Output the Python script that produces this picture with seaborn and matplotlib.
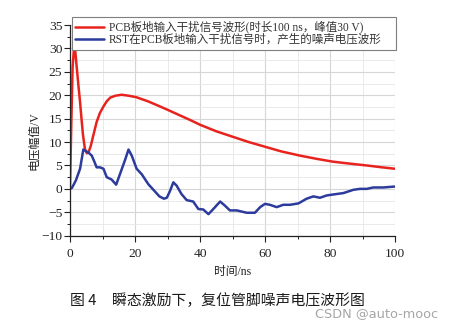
import numpy as np
import pandas as pd
import matplotlib
matplotlib.use("Agg")
import matplotlib.pyplot as plt
import seaborn as sns
from matplotlib.ticker import MultipleLocator

# ---- data ----
red_t = [0, 0.4, 0.8, 1.2, 1.6, 2.0, 2.6, 3.1, 3.6, 4.0, 4.6, 5.2, 5.8, 6.4, 7.2,
         8.2, 9.2, 10.3, 11.3, 12.4, 14.0, 15.9, 18.0, 20.3, 24.0, 27.7, 30.0,
         33.8, 37.0, 40.0, 45.0, 50.2, 55.0, 60.5, 65.0, 70.8, 76.0, 81.0, 86.0,
         91.3, 96.0, 100]
red_v = [0, 14, 26, 29.8, 29.6, 26.5, 22.0, 18.5, 14.5, 11.5, 8.5, 7.6, 8.0, 9.2,
         11.5, 14.3, 16.2, 17.6, 18.7, 19.5, 19.9, 20.1, 19.9, 19.6, 18.7, 17.6,
         16.9, 15.7, 14.7, 13.7, 12.3, 11.1, 10.0, 8.9, 8.0, 7.1, 6.4, 5.8, 5.4,
         5.0, 4.6, 4.3]

blue_t = [0, 0.6, 1.8, 3.1, 4.1, 5.0, 5.6, 6.7, 7.5, 8.2, 9.2, 10.3, 11.3, 12.8,
          14.2, 15.4, 16.9, 18.0, 19.0, 20.5, 22.1, 24.1, 25.8, 27.5, 28.9, 29.8,
          30.8, 31.8, 32.8, 34.3, 35.9, 37.9, 39.5, 41.0, 42.6, 44.1, 46.2, 47.7,
          49.2, 51.3, 54.4, 56.9, 58.5, 60.0, 61.5, 63.6, 65.6, 67.7, 70.3, 72.8,
          74.9, 76.9, 79.0, 81.0, 84.1, 87.2, 89.2, 91.3, 93.3, 96.4, 100]
blue_v = [0, 0.2, 1.8, 4.3, 8.4, 8.0, 7.8, 7.1, 5.8, 4.6, 4.6, 4.3, 2.5, 2.0,
          0.9, 3.2, 6.1, 8.4, 7.1, 4.3, 3.1, 1.0, -0.3, -1.6, -2.1, -1.9,
          -0.4, 1.4, 0.7, -1.1, -2.4, -2.7, -4.3, -4.4, -5.4, -4.3, -2.7, -3.6,
          -4.6, -4.6, -5.1, -5.1, -3.9, -3.2, -3.4, -3.9, -3.4, -3.4, -3.1, -2.1,
          -1.6, -1.9, -1.4, -1.2, -0.9, -0.2, 0, 0, 0.3, 0.3, 0.5]

series_labels = ["PCB板地输入干扰信号波形(时长100 ns，峰值30 V)",
                 "RST在PCB板地输入干扰信号时，产生的噪声电压波形"]
series_colors = ["#e8231e", "#2c3b9c"]
x_ticks = [0, 20, 40, 60, 80, 100]
y_ticks = [-10, -5, 0, 5, 10, 15, 20, 25, 30, 35]
x_label = "时间/ns"
y_label = "电压幅值/V"
caption_fig = "图 4"
caption_text = "瞬态激励下，复位管脚噪声电压波形图"
watermark = "CSDN @auto-mooc"

# ---- style ----
sns.set_theme(style="white")
plt.rcParams['font.family'] = ['Liberation Serif', 'Noto Sans CJK SC']
plt.rcParams['axes.unicode_minus'] = True

df = pd.concat([
    pd.DataFrame({"t": red_t, "v": red_v, "s": series_labels[0]}),
    pd.DataFrame({"t": blue_t, "v": blue_v, "s": series_labels[1]}),
], ignore_index=True)

W, H = 454, 329
fig = plt.figure(figsize=(W / 100, H / 100), dpi=100)
ax = fig.add_axes([70 / W, (H - 235.7) / H, 325 / W, 210.7 / H])

sns.lineplot(data=df, x="t", y="v", hue="s", palette=series_colors,
             estimator=None, sort=False, linewidth=1.8, ax=ax)

ax.set_xlim(x_ticks[0], x_ticks[-1])
ax.set_ylim(y_ticks[0], y_ticks[-1])
ax.set_xticks(x_ticks)
ax.set_yticks(y_ticks)
ax.xaxis.set_minor_locator(MultipleLocator(10))
ax.yaxis.set_minor_locator(MultipleLocator(2.5))

ax.set_axisbelow(True)
ax.grid(which='major', color='#d6d6d6', linewidth=0.8)
ax.grid(which='minor', color='#e6e6e6', linewidth=0.6)

for side in ['top', 'right']:
    ax.spines[side].set_visible(False)
for side in ['left', 'bottom']:
    ax.spines[side].set_color('#222222')
    ax.spines[side].set_linewidth(0.9)

ax.tick_params(which='major', direction='out', length=4.5, width=0.8,
               color='#222222', labelsize=9.7, labelcolor='#222222')
ax.tick_params(which='minor', direction='out', length=2.5, width=0.7,
               color='#222222')
ax.tick_params(axis='y', which='both', left=True, pad=1)
ax.tick_params(axis='x', which='both', bottom=True, pad=4)

ax.set_xlabel(x_label, fontsize=8.5, color='#222222')
ax.set_ylabel(y_label, fontsize=8.5, color='#222222')
ax.xaxis.set_label_coords(0.5, -0.144)
ax.yaxis.set_label_coords(-0.092, 0.45)

handles, labels = ax.get_legend_handles_labels()
leg = ax.legend(handles, labels, loc='upper left',
                bbox_to_anchor=(71.7 / W, (H - 45) / H, 324 / W, 27.7 / H),
                bbox_transform=fig.transFigure, mode='expand', borderaxespad=0,
                fancybox=False, edgecolor='#7f7f7f', fontsize=8.3,
                handlelength=2.5, handletextpad=0.45, labelspacing=0.05,
                borderpad=0.3, frameon=True, framealpha=1)
leg.get_frame().set_linewidth(0.8)
for t in leg.get_texts():
    t.set_color('#333333')

fig.text(70 / W, 1 - 301 / H, caption_fig, fontsize=10.7,
         family=['Noto Sans CJK SC'], color='#1a1a1a', va='center', ha='left')
fig.text(111.7 / W, 1 - 301 / H, caption_text, fontsize=10.7,
         family=['Noto Sans CJK SC'], color='#1a1a1a', va='center', ha='left')
fig.text(315 / W, 1 - 314 / H, watermark, fontsize=9.3,
         family=['DejaVu Sans'], color='#a6a6a6', va='center', ha='left')

fig.savefig("out.png", dpi=100)
